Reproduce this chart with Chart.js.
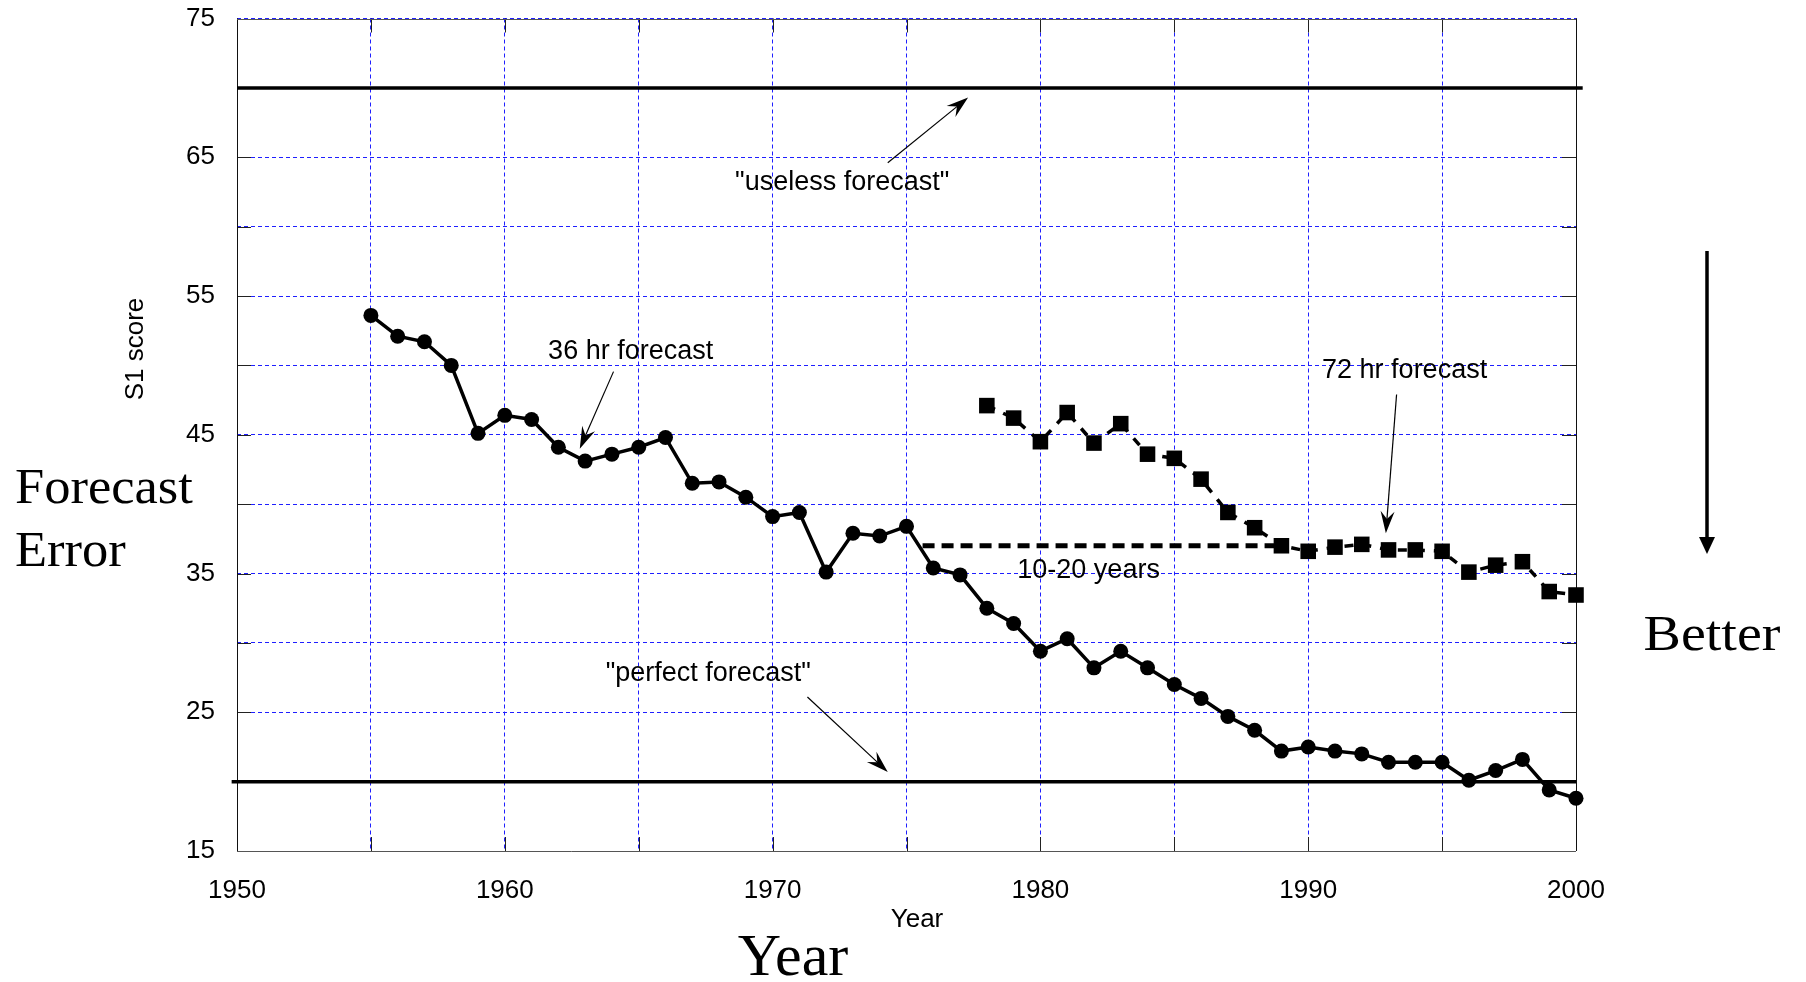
<!DOCTYPE html>
<html>
<head>
<meta charset="utf-8">
<title>S1 score forecast error 1955-2000</title>
<script src="https://cdn.jsdelivr.net/npm/chart.js@4.4.1/dist/chart.umd.min.js"></script>
<style>
  html, body { margin: 0; padding: 0; background: #fff; }
  #wrap { position: relative; width: 1806px; height: 982px; }
</style>
</head>
<body>
<div id="wrap"><canvas id="s1Chart"></canvas></div>
<script>
// 36 hr forecast, S1 score per year
const years36 = [1955, 1956, 1957, 1958, 1959, 1960, 1961, 1962, 1963, 1964,
                 1965, 1966, 1967, 1968, 1969, 1970, 1971, 1972, 1973, 1974,
                 1975, 1976, 1977, 1978, 1979, 1980, 1981, 1982, 1983, 1984,
                 1985, 1986, 1987, 1988, 1989, 1990, 1991, 1992, 1993, 1994,
                 1995, 1996, 1997, 1998, 1999, 2000];
const s1Score36 = [53.6, 52.1, 51.7, 50.0, 45.1, 46.4, 46.1, 44.1, 43.1, 43.6,
                   44.1, 44.8, 41.5, 41.6, 40.5, 39.1, 39.4, 35.1, 37.9, 37.7,
                   38.4, 35.4, 34.9, 32.5, 31.4, 29.4, 30.3, 28.2, 29.4, 28.2,
                   27.0, 26.0, 24.7, 23.7, 22.2, 22.5, 22.2, 22.0, 21.4, 21.4,
                   21.4, 20.1, 20.8, 21.6, 19.4, 18.8];

// 72 hr forecast
const years72 = [1978, 1979, 1980, 1981, 1982, 1983, 1984, 1985, 1986, 1987,
                 1988, 1989, 1990, 1991, 1992, 1993, 1994, 1995, 1996, 1997,
                 1998, 1999, 2000];
const s1Score72 = [47.1, 46.2, 44.5, 46.6, 44.4, 45.8, 43.6, 43.3, 41.8, 39.4,
                   38.3, 37.0, 36.6, 36.9, 37.1, 36.7, 36.7, 36.6, 35.1, 35.6,
                   35.85, 33.7, 33.45];

// reference levels
const uselessLevel = 70;
const perfectLevel = 20;
const uselessSpan = [1950, 2000.25];
const perfectSpan = [1949.8, 2000];

// "10-20 years" gap line
const gapSpan = [1975.6, 1989];
const gapLevel = 37;

// axis ticks (labelled ones)
const xTickLabels = [1950, 1960, 1970, 1980, 1990, 2000];
const yTickLabels = [15, 25, 35, 45, 55, 65, 75];

// annotations in data units: text anchor, arrow start, arrow tip
const notes = [
    { text: '"useless forecast"', at: [1972.6, 63.2], from: [1974.3, 64.6], to: [1977.3, 69.3] },
    { text: '"perfect forecast"', at: [1967.6, 27.8], from: [1971.3, 26.1], to: [1974.3, 20.7] },
    { text: '36 hr forecast', at: [1964.7, 51.0], from: [1964.06, 49.55], to: [1962.8, 44.0] },
    { text: '72 hr forecast', at: [1993.6, 49.65], from: [1993.3, 47.9], to: [1992.9, 37.9] },
    { text: '10-20 years', at: [1981.8, 35.2] }
];

const SANS = '"Liberation Sans", Arial, sans-serif';
const SERIF = '"Liberation Serif", "Times New Roman", serif';

function toPoints(xs, ys) {
    return xs.map((x, i) => ({ x: x, y: ys[i] }));
}

function drawArrow(ctx, x1, y1, x2, y2, len, half) {
    const ang = Math.atan2(y2 - y1, x2 - x1);
    const cx = Math.cos(ang), cy = Math.sin(ang);
    ctx.beginPath();
    ctx.moveTo(x1, y1);
    ctx.lineTo(x2 - cx * len * 0.6, y2 - cy * len * 0.6);
    ctx.stroke();
    const bx = x2 - cx * len, by = y2 - cy * len;
    const nx = -cy, ny = cx;
    ctx.beginPath();
    ctx.moveTo(x2, y2);
    ctx.lineTo(bx + nx * half, by + ny * half);
    ctx.lineTo(x2 - cx * len * 0.65, y2 - cy * len * 0.65);
    ctx.lineTo(bx - nx * half, by - ny * half);
    ctx.closePath();
    ctx.fill();
}

// stretched serif text (the reference face is wider than Times)
function wideText(ctx, text, x, y, size, stretch, align) {
    ctx.save();
    ctx.font = size + 'px ' + SERIF;
    ctx.textAlign = align;
    ctx.translate(x, y);
    ctx.scale(stretch, 1);
    ctx.fillText(text, 0, 0);
    ctx.restore();
}

// inner tick marks + frame
const frame = {
    id: 'frame',
    beforeDatasetsDraw(chart) {
        const { ctx, chartArea: a, scales: { x, y } } = chart;
        ctx.save();
        ctx.strokeStyle = '#222';
        ctx.lineWidth = 1;
        ctx.beginPath();
        x.ticks.forEach(t => {
            const px = Math.round(x.getPixelForValue(t.value)) + 0.5;
            ctx.moveTo(px, a.bottom); ctx.lineTo(px, a.bottom - 14);
            ctx.moveTo(px, a.top); ctx.lineTo(px, a.top + 14);
        });
        y.ticks.forEach(t => {
            const py = Math.round(y.getPixelForValue(t.value)) + 0.5;
            ctx.moveTo(a.left, py); ctx.lineTo(a.left + 14, py);
            ctx.moveTo(a.right, py); ctx.lineTo(a.right - 14, py);
        });
        ctx.stroke();
        ctx.strokeStyle = '#111';
        ctx.beginPath();
        ctx.moveTo(Math.round(a.left) + 0.5, a.top);
        ctx.lineTo(Math.round(a.left) + 0.5, a.bottom);
        ctx.moveTo(Math.round(a.right) + 0.5, a.top);
        ctx.lineTo(Math.round(a.right) + 0.5, a.bottom);
        ctx.stroke();
        ctx.strokeStyle = '#555';
        ctx.beginPath();
        ctx.moveTo(a.left, Math.round(a.top) + 0.5);
        ctx.lineTo(a.right, Math.round(a.top) + 0.5);
        ctx.moveTo(a.left, Math.round(a.bottom) + 0.5);
        ctx.lineTo(a.right, Math.round(a.bottom) + 0.5);
        ctx.stroke();
        ctx.restore();
    },
    afterDatasetsDraw(chart) {
        const { ctx, scales: { x, y } } = chart;
        ctx.save();
        ctx.fillStyle = '#000';
        ctx.strokeStyle = '#000';
        ctx.lineWidth = 1.2;
        ctx.font = '27px ' + SANS;
        ctx.textAlign = 'center';
        ctx.textBaseline = 'middle';
        notes.forEach(n => {
            ctx.fillText(n.text, x.getPixelForValue(n.at[0]), y.getPixelForValue(n.at[1]));
            if (n.from) {
                drawArrow(ctx,
                    x.getPixelForValue(n.from[0]), y.getPixelForValue(n.from[1]),
                    x.getPixelForValue(n.to[0]), y.getPixelForValue(n.to[1]), 22, 7);
            }
        });
        ctx.restore();
    },
    afterDraw(chart) {
        const ctx = chart.ctx;
        ctx.save();
        ctx.fillStyle = '#000';
        ctx.strokeStyle = '#000';

        // axis titles
        ctx.font = '26px ' + SANS;
        ctx.textAlign = 'center';
        ctx.textBaseline = 'alphabetic';
        ctx.fillText('Year', 917, 927);
        ctx.save();
        ctx.translate(143, 349);
        ctx.rotate(-Math.PI / 2);
        ctx.fillText('S1 score', 0, 0);
        ctx.restore();

        // big serif labels
        wideText(ctx, 'Year', 793, 975, 60, 1, 'center');
        wideText(ctx, 'Forecast', 15, 503, 50, 1.05, 'left');
        wideText(ctx, 'Error', 15, 566, 50, 1.05, 'left');
        wideText(ctx, 'Better', 1712, 650, 50, 1.12, 'center');

        // "better" arrow
        ctx.lineWidth = 3.5;
        ctx.beginPath();
        ctx.moveTo(1707, 251);
        ctx.lineTo(1707, 540);
        ctx.stroke();
        ctx.beginPath();
        ctx.moveTo(1707, 554);
        ctx.lineTo(1699, 537);
        ctx.lineTo(1715, 537);
        ctx.closePath();
        ctx.fill();
        ctx.restore();
    }
};

const lineStyle = {
    borderColor: '#000',
    backgroundColor: '#000',
    pointBackgroundColor: '#000',
    pointBorderColor: '#000',
    fill: false,
    tension: 0,
    clip: false
};

new Chart(document.getElementById('s1Chart'), {
    type: 'line',
    data: {
        datasets: [
            Object.assign({}, lineStyle, {
                label: '36 hr forecast',
                data: toPoints(years36, s1Score36),
                borderWidth: 3.5,
                pointStyle: 'circle',
                pointRadius: 7.5,
                pointBorderWidth: 0
            }),
            Object.assign({}, lineStyle, {
                label: '72 hr forecast',
                data: toPoints(years72, s1Score72),
                borderWidth: 3.5,
                borderDash: [9, 9],
                pointStyle: 'rect',
                pointRadius: 11,
                pointBorderWidth: 0
            }),
            Object.assign({}, lineStyle, {
                label: '10-20 years',
                data: toPoints(gapSpan, [gapLevel, gapLevel]),
                borderWidth: 5,
                borderDash: [12, 7],
                pointRadius: 0
            }),
            Object.assign({}, lineStyle, {
                label: 'useless forecast',
                data: toPoints(uselessSpan, [uselessLevel, uselessLevel]),
                borderWidth: 3.5,
                pointRadius: 0
            }),
            Object.assign({}, lineStyle, {
                label: 'perfect forecast',
                data: toPoints(perfectSpan, [perfectLevel, perfectLevel]),
                borderWidth: 3.5,
                pointRadius: 0
            })
        ]
    },
    options: {
        responsive: true,
        maintainAspectRatio: false,
        animation: false,
        events: [],
        layout: { padding: { top: 18.5, right: 230, bottom: 0, left: 0 } },
        scales: {
            x: {
                type: 'linear',
                min: 1950,
                max: 2000,
                afterFit: s => {
                    s.height = 131;
                    s.paddingLeft = 0;
                    s.paddingRight = 0;
                },
                ticks: {
                    stepSize: 5,
                    autoSkip: false,
                    maxRotation: 0,
                    padding: 24,
                    color: '#000',
                    font: { family: SANS, size: 26 },
                    callback: v => xTickLabels.includes(v) ? String(v) : ''
                },
                grid: { color: '#1f1fff', lineWidth: 1, drawTicks: false },
                border: { display: false, dash: [4, 3] }
            },
            y: {
                min: 15,
                max: 75,
                afterFit: s => {
                    s.width = 237;
                    s.paddingTop = 0;
                    s.paddingBottom = 0;
                },
                ticks: {
                    stepSize: 5,
                    autoSkip: false,
                    padding: 22,
                    color: '#000',
                    font: { family: SANS, size: 26 },
                    callback: v => yTickLabels.includes(v) ? String(v) : ''
                },
                grid: { color: '#1f1fff', lineWidth: 1, drawTicks: false },
                border: { display: false, dash: [4, 3] }
            }
        },
        plugins: {
            legend: { display: false },
            tooltip: { enabled: false }
        }
    },
    plugins: [frame]
});
</script>
</body>
</html>
